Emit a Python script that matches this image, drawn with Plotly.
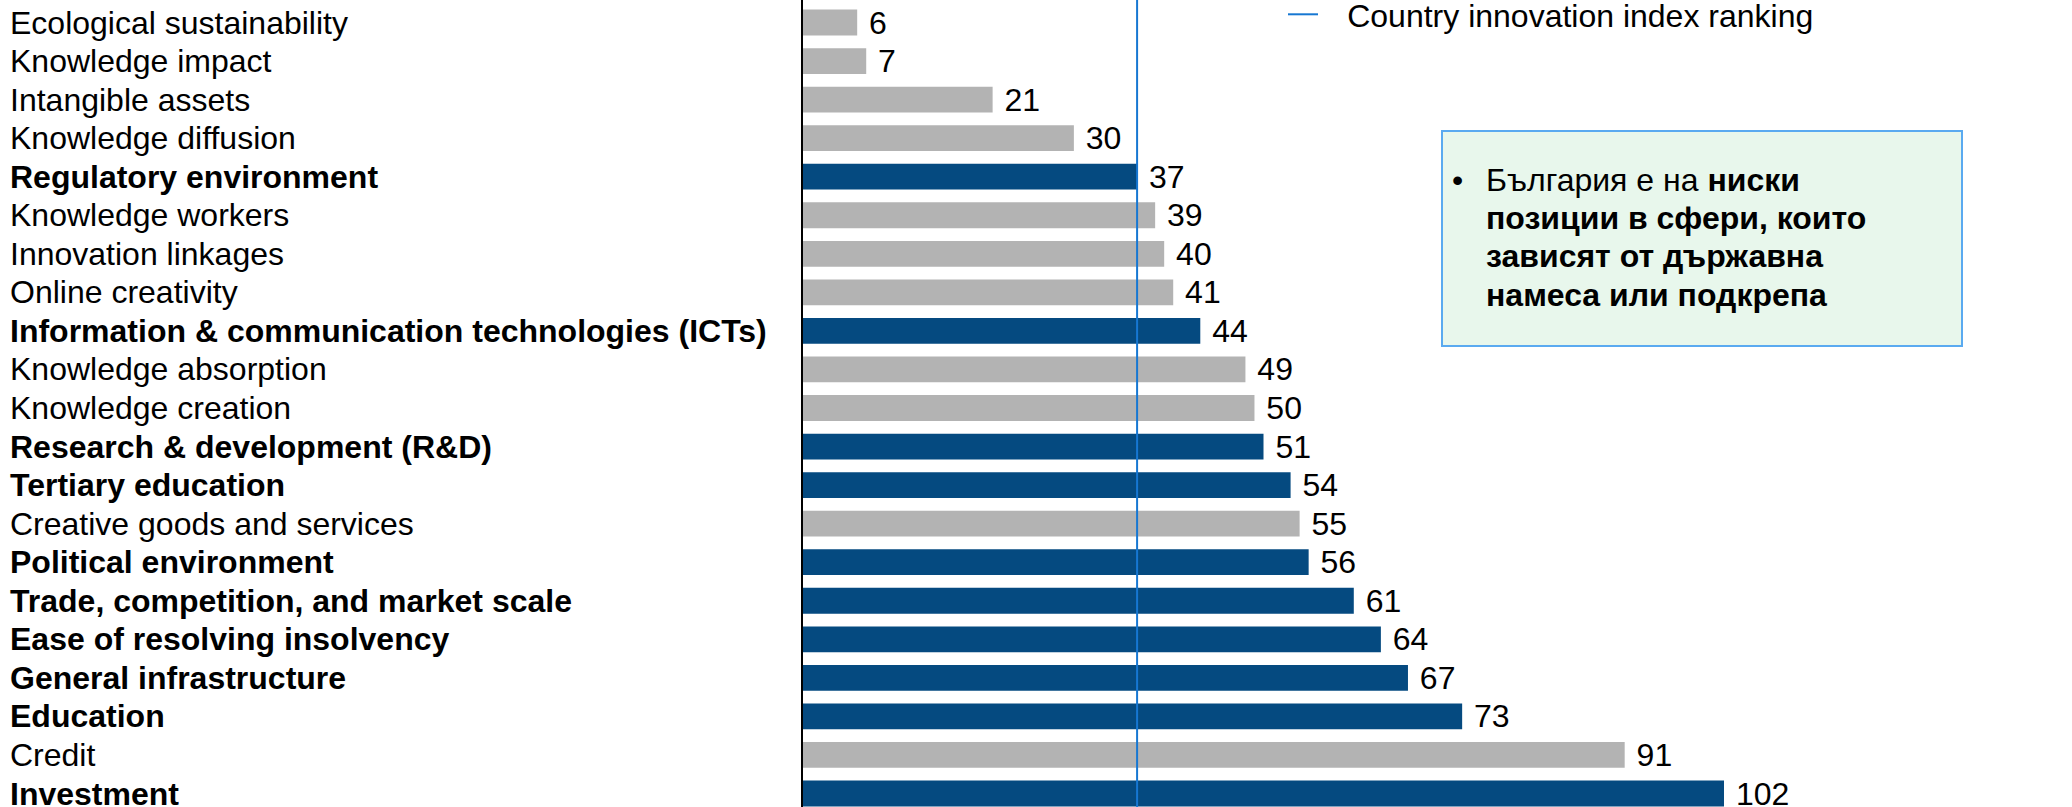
import plotly.graph_objects as go

categories = [
    "Ecological sustainability", "Knowledge impact", "Intangible assets", "Knowledge diffusion",
    "Regulatory environment", "Knowledge workers", "Innovation linkages", "Online creativity",
    "Information & communication technologies (ICTs)", "Knowledge absorption", "Knowledge creation",
    "Research & development (R&D)", "Tertiary education", "Creative goods and services",
    "Political environment", "Trade, competition, and market scale", "Ease of resolving insolvency",
    "General infrastructure", "Education", "Credit", "Investment",
]
ranks = [6, 7, 21, 30, 37, 39, 40, 41, 44, 49, 50, 51, 54, 55, 56, 61, 64, 67, 73, 91, 102]
state_dependent = [False, False, False, False, True, False, False, False, True, False, False,
                   True, True, False, True, True, True, True, True, False, True]
country_rank = 37
legend_label = "Country innovation index ranking"
box_lines = [
    ("България е на ", "ниски"),
    ("", "позиции в сфери, които"),
    ("", "зависят от държавна"),
    ("", "намеса или подкрепа"),
]

W, H = 2072, 807
FONT = "Liberation Sans, Arial, sans-serif"
FS = 32
DARK = "#054A80"
GRAY = "#B3B3B3"
LINE_BLUE = "#1677D2"

x0_px = 803
x_dom0 = x0_px / W

colors = [DARK if s else GRAY for s in state_dependent]

fig = go.Figure()
fig.add_trace(go.Bar(
    x=ranks, y=categories, orientation="h",
    marker=dict(color=colors, line=dict(width=0)),
    text=["\u00a0" + str(v) for v in ranks], textposition="outside",
    textfont=dict(family=FONT, size=FS, color="black"),
    constraintext="none", cliponaxis=False, showlegend=False,
    hoverinfo="x+y",
))

fig.add_shape(type="line", xref="x", yref="paper", x0=country_rank, x1=country_rank,
              y0=0, y1=1, line=dict(color=LINE_BLUE, width=2),
              showlegend=True, name="\u00a0\u00a0\u2009" + legend_label)

# left-aligned category labels
for cat, s in zip(categories, state_dependent):
    fig.add_annotation(
        x=8 / W, xref="paper", xanchor="left", y=cat, yref="y", yanchor="middle",
        text=f"<b>{cat}</b>" if s else cat, showarrow=False,
        font=dict(family=FONT, size=FS, color="black"),
    )

# text box
fig.add_shape(type="rect", xref="paper", yref="paper",
              x0=1442 / W, x1=1962 / W, y0=1 - 346 / H, y1=1 - 131 / H,
              line=dict(color="#5AAAF0", width=2), fillcolor="#E8F7EC", layer="below")
line_y = [180, 218, 256, 295]
fig.add_annotation(x=1450 / W, xref="paper", xanchor="left", y=1 - line_y[0] / H, yref="paper",
                   yanchor="middle", text="•", showarrow=False,
                   font=dict(family=FONT, size=FS, color="black"))
for (reg, bold), yy in zip(box_lines, line_y):
    txt = reg + (f"<b>{bold}</b>" if bold else "")
    fig.add_annotation(x=1484 / W, xref="paper", xanchor="left", y=1 - yy / H, yref="paper",
                       yanchor="middle", text=txt, showarrow=False, align="left",
                       font=dict(family=FONT, size=FS, color="black"))

pitch = 38.55
top_idx = -22.5 / pitch
fig.update_layout(
    width=W, height=H,
    margin=dict(l=0, r=0, t=0, b=0, pad=0, autoexpand=False),
    paper_bgcolor="white", plot_bgcolor="white",
    bargap=0.33,
    font=dict(family=FONT, size=FS, color="black"),
    xaxis=dict(domain=[x_dom0, 1.0], range=[0, 102 * (W - x0_px) / (1724 - x0_px)],
               showgrid=False, zeroline=False, showticklabels=False, ticks="", showline=False),
    yaxis=dict(categoryorder="array", categoryarray=categories,
               range=[top_idx + H / pitch, top_idx],
               showgrid=False, zeroline=False, showticklabels=False, ticks="",
               showline=True, linecolor="black", linewidth=1.5),
    legend=dict(x=1283 / W, y=1.0 + 13 / H, xanchor="left", yanchor="top",
                font=dict(family=FONT, size=FS, color="black"),
                bgcolor="rgba(0,0,0,0)", borderwidth=0),
    showlegend=True,
)

fig.write_html(
    "out.html",
    config={"displayModeBar": False},
    post_script="document.body.style.margin='0';document.documentElement.style.overflow='hidden';",
)
